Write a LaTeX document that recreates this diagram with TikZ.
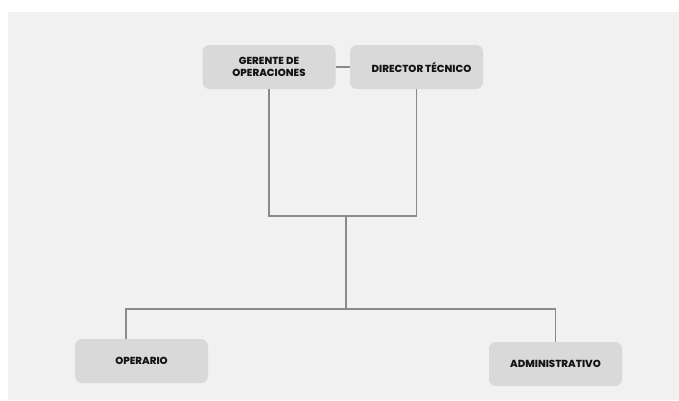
\documentclass[tikz,border=0pt]{standalone}
\usepackage{fontspec}
\setmainfont{Poppins}[BoldFont={Poppins ExtraBold}]
\definecolor{fondo}{HTML}{F1F1F1}
\definecolor{gris}{HTML}{D9D9D9}
\definecolor{linea}{HTML}{8A8A8A}
\definecolor{letra}{HTML}{141414}
\tikzset{
  cargo/.style={fill=gris, rounded corners=7pt, minimum width=133pt, minimum height=44pt,
    align=center, inner sep=0pt, font=\fontsize{10.2}{12.5}\selectfont\bfseries, text=letra},
  enlace/.style={draw=linea, line width=1.2pt}
}
\begin{document}
\begin{tikzpicture}[x=1pt, y=-1pt]
\useasboundingbox (0,0) rectangle (679,400);
\fill[fondo] (8,12) rectangle (679,400);
\node[cargo](gerente) at (269,67){GERENTE DE\\OPERACIONES};
\node[cargo](director) at (416.5,67){\hspace*{10pt}DIRECTOR TÉCNICO};
\node[cargo](operario) at (141.5,361){OPERARIO};
\node[cargo](admin) at (555.5,364){ADMINISTRATIVO};
\coordinate (union) at (346,216);
\coordinate (reparto) at (346,309);
\draw[enlace] (gerente) -- (director);
\draw[enlace] (gerente.south) |- (union) -| (director.south);
\draw[enlace] (union) -- (reparto);
\draw[enlace] (reparto) -| ([xshift=-15.5pt]operario.north);
\draw[enlace] (reparto) -| (admin.north);
\end{tikzpicture}
\end{document}
